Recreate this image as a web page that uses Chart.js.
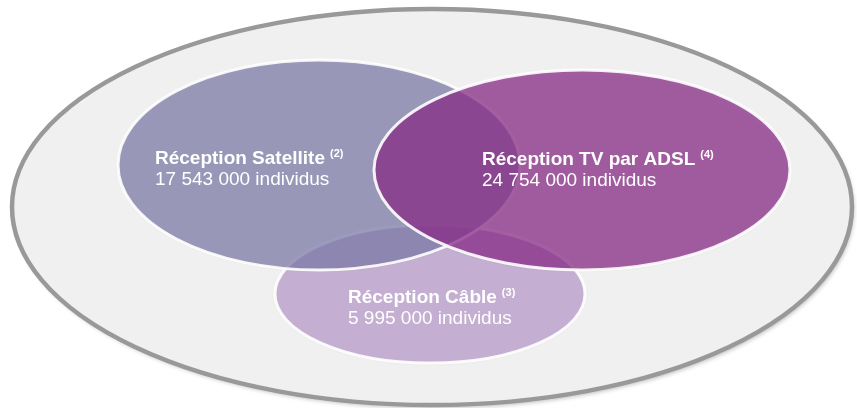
<!DOCTYPE html>
<html lang="fr">
<head>
<meta charset="utf-8">
<title>Réception TV</title>
<script src="https://cdn.jsdelivr.net/npm/chart.js@4"></script>
<style>
    html, body { margin: 0; padding: 0; background: #fff; }
    #wrap { width: 857px; height: 408px; position: relative; }
</style>
</head>
<body>
<div id="wrap"><canvas id="chart"></canvas></div>
<script>
(function () {
    // --- Data (diagram units: x 0..857, y 0..408 from the top) ---
    const modes = ['Réception Câble', 'Réception Satellite', 'Réception TV par ADSL'];
    const notes = ['(3)', '(2)', '(4)'];
    const individus = [5995000, 17543000, 24754000];
    const centreX = [430, 319, 582];
    const centreY = [294, 165, 170];
    const rayonX = [155, 201, 208];
    const rayonY = [69, 105, 100];

    // whole population
    const univers = { x: 432, y: 207, rx: 420, ry: 198 };

    // --- Styles ---
    const fills = ['rgb(196,174,209)', 'rgba(124,122,168,0.72)', 'rgba(138,45,136,0.74)'];
    const labelPos = [[348, 303], [155, 164], [482, 165]];
    const FONT = '"Liberation Sans", Arial, sans-serif';

    function formatNombre(n) {
        return String(n).replace(/\B(?=(\d{3})+(?!\d))/g, ' ');
    }

    function ellipse(ctx, chart, d) {
        const sx = chart.scales.x, sy = chart.scales.y;
        const cx = sx.getPixelForValue(d.x);
        const cy = sy.getPixelForValue(d.y);
        const rx = Math.abs(sx.getPixelForValue(d.x + d.rx) - cx);
        const ry = Math.abs(sy.getPixelForValue(d.y + d.ry) - cy);
        ctx.beginPath();
        ctx.ellipse(cx, cy, rx, ry, 0, 0, Math.PI * 2);
    }

    const vennPlugin = {
        id: 'venn',
        beforeDatasetsDraw(chart) {
            const ctx = chart.ctx;
            ctx.save();

            // outer set
            const u = chart.data.datasets[0].data[0];
            ctx.shadowColor = 'rgba(0,0,0,0.25)';
            ctx.shadowBlur = 4;
            ctx.shadowOffsetX = 2;
            ctx.shadowOffsetY = 3;
            ellipse(ctx, chart, u);
            ctx.fillStyle = '#f0f0f0';
            ctx.fill();
            ctx.shadowColor = 'transparent';
            ctx.lineWidth = 4.5;
            ctx.strokeStyle = '#999999';
            ctx.stroke();

            // the three modes
            chart.data.datasets.slice(1).forEach((ds) => {
                const d = ds.data[0];
                ctx.shadowColor = 'rgba(0,0,0,0.08)';
                ctx.shadowBlur = 3;
                ctx.shadowOffsetX = 0;
                ctx.shadowOffsetY = 1;
                ellipse(ctx, chart, d);
                ctx.fillStyle = ds.backgroundColor;
                ctx.fill();
                ctx.shadowColor = 'transparent';
                ctx.lineWidth = 3;
                ctx.strokeStyle = 'rgba(255,255,255,0.9)';
                ctx.stroke();
            });
            ctx.restore();
        },
        afterDatasetsDraw(chart) {
            const ctx = chart.ctx;
            const sx = chart.scales.x, sy = chart.scales.y;
            ctx.save();
            ctx.fillStyle = '#ffffff';
            ctx.textBaseline = 'alphabetic';
            ctx.textAlign = 'left';
            modes.forEach((m, i) => {
                const x = sx.getPixelForValue(labelPos[i][0]);
                const y = sy.getPixelForValue(labelPos[i][1]);
                ctx.font = 'bold 19px ' + FONT;
                ctx.fillText(m, x, y);
                const w = ctx.measureText(m).width;
                ctx.font = 'bold 11px ' + FONT;
                ctx.fillText(notes[i], x + w + 5, y - 7);
                ctx.font = '19px ' + FONT;
                ctx.fillText(formatNombre(individus[i]) + ' individus', x, y + 21);
            });
            ctx.restore();
        }
    };

    const datasets = [{
        label: 'Population',
        data: [{ x: univers.x, y: univers.y, rx: univers.rx, ry: univers.ry }],
        backgroundColor: '#f0f0f0'
    }].concat(modes.map((m, i) => ({
        label: m,
        data: [{ x: centreX[i], y: centreY[i], rx: rayonX[i], ry: rayonY[i] }],
        backgroundColor: fills[i]
    })));

    new Chart(document.getElementById('chart'), {
        type: 'scatter',
        data: { datasets },
        options: {
            responsive: true,
            maintainAspectRatio: false,
            animation: false,
            layout: { padding: 0 },
            elements: { point: { radius: 0, hoverRadius: 0 } },
            plugins: { legend: { display: false }, tooltip: { enabled: false } },
            scales: {
                x: { type: 'linear', min: 0, max: 857, display: false },
                y: { type: 'linear', min: 0, max: 408, reverse: true, display: false }
            }
        },
        plugins: [vennPlugin]
    });
})();
</script>
</body>
</html>
